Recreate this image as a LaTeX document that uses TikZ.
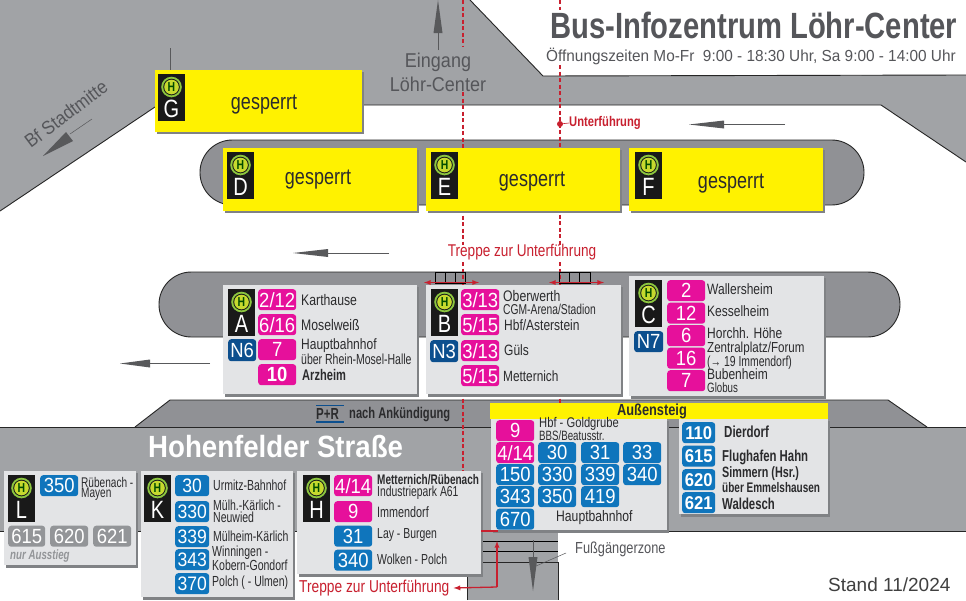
\documentclass[tikz,border=0pt]{standalone}
\usepackage{fontspec}
\setmainfont{Liberation Sans}
\newfontfamily\nar[FakeStretch=0.8]{Liberation Sans}
\newfontfamily\narr[FakeStretch=0.72]{Liberation Sans}
\newfontfamily\narw[FakeStretch=0.9]{Liberation Sans}
\newfontfamily\wid[FakeStretch=0.96]{Liberation Sans}
\usetikzlibrary{calc}
\definecolor{road}{HTML}{A1A3A6}
\definecolor{isl}{HTML}{909195}
\definecolor{panel}{HTML}{E3E4E6}
\definecolor{shadowc}{HTML}{808285}
\definecolor{ylw}{HTML}{FFF200}
\definecolor{pinkc}{HTML}{E6109B}
\definecolor{bluec}{HTML}{0F75BC}
\definecolor{navyc}{HTML}{0C4F8E}
\definecolor{grayc}{HTML}{939598}
\definecolor{redc}{HTML}{C8202F}
\definecolor{txt}{HTML}{2B2B2D}
\definecolor{titlec}{HTML}{55565A}
\definecolor{hring}{HTML}{8CC63F}
\definecolor{hfill}{HTML}{C6D92E}
\definecolor{arrowc}{HTML}{58595B}
\newcounter{nn}
\tikzset{
 x=1pt,y=-1pt,
 edge/.style={draw=black!85,line width=0.9pt},
 dashline/.style={draw=redc,line width=1.1pt,dash pattern=on 4pt off 2.5pt},
 flowline/.style={draw=arrowc,line width=0.5pt},
 flowhead/.style={fill=arrowc},
 chipbox/.style={anchor=north west,inner sep=0pt,rounded corners=3pt,text=white,align=center},
 labelt/.style={anchor=west,inner sep=0pt,text=txt,align=left},
 redt/.style={inner sep=0pt,text=redc},
 stair/.style={draw=black,line width=0.7pt},
 redarrow/.style={draw=redc,line width=1.3pt,-latex},
}
\newcommand{\chip}[7][20.5]{\stepcounter{nn}\node[chipbox,fill=#6,minimum width=#4pt,minimum height=#5pt,name=c\thenn] at (#2,#3) {\fontsize{#1}{#1}\selectfont\narw #7};}
\newcommand{\pk}[3]{\chip{#1}{#2}{38}{21}{pinkc}{#3}}
\newcommand{\bl}[3]{\chip{#1}{#2}{38}{21}{bluec}{#3}}
\newcommand{\bk}[2]{\chip[19.5]{175}{#1}{34}{21}{bluec}{#2}}
\newcommand{\lab}[4]{\stepcounter{nn}\node[labelt,name=t\thenn] at (#1,#2) {\fontsize{#3}{#3}\selectfont\nar #4};}
\newcommand{\labn}[4]{\stepcounter{nn}\node[labelt,name=t\thenn] at (#1,#2) {\fontsize{#3}{#3}\selectfont\narr #4};}
\newcommand{\labb}[4]{\stepcounter{nn}\node[labelt,name=t\thenn] at (#1,#2) {\fontsize{#3}{#3}\selectfont\narr\bfseries #4};}
\newcommand{\panelbox}[4]{\fill[shadowc] (#1+2,#2+2) rectangle (#3+2,#4+2.5);\fill[panel] (#1,#2) rectangle (#3,#4);}
\newcommand{\ybox}[5]{\fill[shadowc] (#1+2,#2+2) rectangle (#3+2,#4+2);\fill[ylw] (#1,#2) rectangle (#3,#4);\stepcounter{nn}\node[inner sep=0pt,text=txt,name=g\thenn] at (#5) {\fontsize{22.5}{22.5}\selectfont\nar gesperrt};}
\newcommand{\stopsign}[3]{\stepcounter{nn}\node[anchor=north west,inner sep=0pt,fill=black!90,minimum width=27pt,minimum height=47pt,name=s\thenn] at (#1,#2) {};
 \fill[hring] (#1+13.5,#2+13) circle (10.3pt);
 \fill[black!90] (#1+13.5,#2+13) circle (8.3pt);
 \fill[hfill] (#1+13.5,#2+13) circle (7.3pt);
 \node[inner sep=0pt,text=black!70!green,name=h\thenn] at (#1+13.5,#2+13) {\fontsize{13}{13}\selectfont\bfseries\nar H};
 \node[inner sep=0pt,text=white,name=l\thenn] at (#1+13.5,#2+35) {\fontsize{25}{25}\selectfont\nar #3};}
\begin{document}
\begin{tikzpicture}
\useasboundingbox (0,0) rectangle (966,600);
\fill[white] (0,0) rectangle (966,600);
% top road
\fill[road] (0,0) -- (470,0) -- (543,76) -- (966,75) -- (966,162) -- (881,105) -- (300,105) -- (155,107) -- (0,211) -- cycle;
\draw[edge] (470,0) -- (543,76) -- (966,75);
\draw[edge] (966,162) -- (881,105) -- (360,105);
\draw[edge] (155,107) -- (0,211);
\draw[flowline] (170,48) -- (170,72);
% islands
\draw[edge,fill=isl,rounded corners=32.4pt] (200,140) rectangle (864,205);
\draw[edge,fill=isl,rounded corners=32.4pt] (159,272) rectangle (900,337);
% lower road
\fill[isl] (135,427) -- (170,400) -- (888,400) -- (927,427) -- cycle;
\draw[edge] (135,427) -- (170,400) -- (888,400) -- (927,427);
\fill[road] (0,427) rectangle (966,531);
\draw[edge] (0,427) -- (966,427);
\draw[edge] (0,531) -- (966,531);
% pedestrian zone
\fill[road] (467,531) rectangle (558,600);
\draw[edge] (467,600) -- (467,562) -- (558,562) -- (558,600);
\draw[stair] (467,541) -- (558,541);
\draw[stair] (467,551) -- (558,551);
% underpass
\draw[dashline] (463,0) -- (463,47);
\draw[dashline] (463,92) -- (463,245);
\draw[dashline] (463,262) -- (463,471);
\draw[dashline] (560,0) -- (560,10);
\draw[dashline] (560,65) -- (560,245);
\draw[dashline] (560,262) -- (560,403);
\coordinate (ud) at (560,124);
\fill[redc] (ud) circle (3pt);
\stepcounter{nn}\node[redt,anchor=west,name=underpass] at (569,123) {\fontsize{14}{14}\selectfont\nar\bfseries Unterführung};
\draw[redc,line width=0.6pt] (ud) -- (underpass.west);
% stairs at island
\draw[stair] (435,272) rectangle (465,283);
\draw[stair] (445,272) -- (445,283) (455,272) -- (455,283);
\draw[stair] (559,272) rectangle (590,283);
\draw[stair] (569,272) -- (569,283) (579,272) -- (579,283);
\draw[draw=redc,line width=1.3pt,latex-latex] (424,282.5) -- (479,282.5);
\draw[draw=redc,line width=1.3pt,latex-latex] (549,282.5) -- (604,282.5);
\node[redt,name=treppeoben] at (522,252) {\fontsize{17}{17}\selectfont\nar Treppe zur Unterführung};
% flow arrows
\draw[flowline] (785,124.5) -- (720,124.5);
\fill[flowhead] (689,124.5) -- (724,120.5) -- (724,128.5) -- cycle;
\draw[flowline] (389,253) -- (325,253);
\fill[flowhead] (293,253) -- (328,249) -- (328,257) -- cycle;
\draw[flowline] (210,363.5) -- (148,363.5);
\fill[flowhead] (120,363.5) -- (150,359.5) -- (150,367.5) -- cycle;
\draw[flowline] (438,50) -- (438,30);
\fill[flowhead] (438,0) -- (433.5,33) -- (442.5,33) -- cycle;
\draw[flowline] (92,119) -- (70,134);
\fill[flowhead] (43,156) -- (66,132) -- (73,141) -- cycle;
\draw[flowline] (533,540) -- (533,560);
\fill[flowhead] (533,591) -- (528.5,557) -- (537.5,557) -- cycle;
\draw[flowline] (536,566) -- (566,553);
% texts on the map
\node[inner sep=0pt,text=titlec,rotate=37,name=bfstadt] at (66,114) {\fontsize{19}{19}\selectfont\narw Bf Stadtmitte};
\node[inner sep=0pt,text=titlec,anchor=center,name=eingang1] at (438,62) {\fontsize{20}{20}\selectfont\narw Eingang};
\node[inner sep=0pt,text=titlec,anchor=center,name=eingang2] at (438,84) {\fontsize{20}{20}\selectfont\narw Löhr-Center};
\node[inner sep=0pt,text=titlec,anchor=west,name=title] at (550,25) {\fontsize{36.5}{36.5}\selectfont\nar\bfseries Bus-Infozentrum Löhr-Center};
\node[inner sep=0pt,text=titlec,anchor=west,name=hours] at (546,56) {\fontsize{16}{16}\selectfont\wid Öffnungszeiten Mo-Fr\ \ 9:00 - 18:30 Uhr, Sa 9:00 - 14:00 Uhr};
\node[inner sep=0pt,text=white,anchor=west,name=street] at (148,447) {\fontsize{30.7}{30.7}\selectfont\narw\bfseries Hohenfelder Straße};
\node[inner sep=0pt,text=titlec,anchor=west,name=fuss] at (575,549) {\fontsize{16}{16}\selectfont\nar Fußgängerzone};
\node[inner sep=0pt,text=black!75,anchor=west,name=stand] at (828,585) {\fontsize{19}{19}\selectfont Stand 11/2024};
\node[inner sep=0pt,text=txt,anchor=west,name=pr] at (316,414) {\fontsize{16}{16}\selectfont\narr\bfseries P+R};
\draw[navyc,line width=1.3pt] (316,405.5) -- (344,405.5) (316,422) -- (344,422);
\node[inner sep=0pt,text=txt,anchor=west,name=ank] at (349,414.5) {\fontsize{15.5}{15.5}\selectfont\narr\bfseries nach Ankündigung};
% closed stops
\ybox{155}{70}{362}{132}{264,105}\stopsign{158}{74}{G}
\ybox{223}{148}{417}{211}{318,180}\stopsign{227}{152}{D}
\ybox{426}{148}{620}{211}{532,182}\stopsign{431}{152}{E}
\ybox{629}{148}{823}{211}{731,184}\stopsign{635}{152}{F}
% stop A
\panelbox{223}{285}{417}{394}
\stopsign{228}{289}{A}
\chip{228}{339}{28}{22}{navyc}{N6}
\pk{258}{289}{2/12}\pk{258}{314}{6/16}\pk{258}{339}{7}\pk{258}{364}{\bfseries 10}
\lab{301}{300}{15.3}{Karthause}
\lab{301}{325}{15.3}{Moselweiß}
\lab{301}{346}{15}{Hauptbahnhof}
\labn{301}{359.5}{14.6}{über Rhein-Mosel-Halle}
\labb{302}{375}{15.4}{Arzheim}
% stop B
\panelbox{426}{285}{621}{394}
\stopsign{431}{289}{B}
\chip{430}{340}{28}{22}{navyc}{N3}
\pk{461}{289}{3/13}\pk{461}{314}{5/15}\pk{461}{340}{3/13}\pk{461}{365}{5/15}
\lab{503}{296}{15.3}{Oberwerth}
\labn{503}{309.5}{14.3}{CGM-Arena/Stadion}
\lab{504}{325}{15}{Hbf/Asterstein}
\lab{504}{350.5}{15}{Güls}
\lab{503}{376}{14.8}{Metternich}
% stop C
\panelbox{629}{276}{824}{396}
\stopsign{635}{280}{C}
\chip{634}{331}{29}{21}{navyc}{N7}
\pk{667}{280}{2}\pk{667}{302.5}{12}\pk{667}{325}{6}\pk{667}{347.5}{16}\pk{667}{370}{7}
\lab{707}{289}{15}{Wallersheim}
\lab{707}{311}{15}{Kesselheim}
\lab{707}{333}{15}{Horchh. Höhe}
\lab{707}{349}{14.5}{Zentralplatz/Forum}
\labn{707}{362.5}{14.5}{(→ 19 Immendorf)}
\lab{707}{374.5}{15}{Bubenheim}
\labn{707}{387.5}{13.5}{Globus}
% outer platform
\panelbox{491}{419}{667}{530}
\panelbox{679}{419}{828}{514}
\fill[ylw] (490,403) rectangle (828,419);
\node[inner sep=0pt,text=txt,name=aussen] at (652,411.5) {\fontsize{16}{16}\selectfont\nar\bfseries Außensteig};
\pk{496}{420}{9}
\lab{539}{424}{14}{Hbf - Goldgrube}
\labn{539}{436}{13.5}{BBS/Beatusstr.}
\pk{496}{442}{4/14}\bl{538}{442}{30}\bl{581}{442}{31}\bl{623}{442}{33}
\bl{496}{464}{150}\bl{538}{464}{330}\bl{581}{464}{339}\bl{623}{464}{340}
\bl{496}{486}{343}\bl{538}{486}{350}\bl{581}{486}{419}
\bl{496}{508.5}{670}
\lab{556}{518}{15.2}{Hauptbahnhof}
\chip[18.5]{682}{422}{33}{21}{bluec}{\bfseries 110}
\chip[18.5]{682}{445.5}{33}{21}{bluec}{\bfseries 615}
\chip[18.5]{682}{469}{33}{21}{bluec}{\bfseries 620}
\chip[18.5]{682}{492}{33}{21}{bluec}{\bfseries 621}
\labb{724}{432}{16}{Dierdorf}
\labb{722}{457}{15.8}{Flughafen Hahn}
\labb{722}{474}{15}{Simmern (Hsr.)}
\labb{722}{488}{13.9}{über Emmelshausen}
\labb{722}{504}{15.8}{Waldesch}
% stop L
\panelbox{4}{471}{136}{565}
\stopsign{8}{475}{L}
\bl{40}{475}{350}
\labn{81}{482}{14}{Rübenach -}
\labn{81}{494}{14}{Mayen}
\chip{8}{525.5}{37}{21}{grayc}{615}
\chip{50}{525.5}{38}{21}{grayc}{620}
\chip{93}{525.5}{38}{21}{grayc}{621}
\stepcounter{nn}\node[labelt,text=grayc,name=ausstieg] at (10,556) {\fontsize{13.5}{13.5}\selectfont\narr\bfseries\itshape nur Ausstieg};
% stop K
\panelbox{141}{471}{293}{597}
\stopsign{144}{475}{K}
\bk{475}{30}\bk{501}{330}\bk{526}{339}\bk{549}{343}\bk{573}{370}
\labn{213}{485}{14.6}{Urmitz-Bahnhof}
\labn{213}{505}{14.6}{Mülh.-Kärlich -}
\labn{213}{517}{14.6}{Neuwied}
\labn{213}{536}{14.6}{Mülheim-Kärlich}
\labn{212}{553}{14.6}{Winningen -}
\labn{212}{565}{14.6}{Kobern-Gondorf}
\labn{212}{583}{14.6}{Polch ( - Ulmen)}
% stop H
\panelbox{297}{471}{481}{574}
\stopsign{303}{475}{H}
\pk{334}{475}{4/14}\pk{334}{501}{9}\bl{334}{525.5}{31}\bl{334}{549.5}{340}
\labb{377}{480}{13.9}{Metternich/Rübenach}
\labn{377}{493}{14.4}{Industriepark A61}
\labn{377}{512}{15}{Immendorf}
\labn{377}{535}{14.5}{Lay - Burgen}
\labn{377}{559}{14.5}{Wolken - Polch}
% bottom stair label
\node[redt,anchor=west,name=treppeunten] at (299,588) {\fontsize{17.2}{17.2}\selectfont\nar Treppe zur Unterführung};
\coordinate (bend) at (497,587);
\coordinate (stairtop) at (497,541);
\draw[redarrow] (bend) -- ([xshift=4pt]treppeunten.east);
\draw[redarrow] (bend) -- (stairtop);
\draw[redc,line width=1.2pt] (481,531) -- (498,531);
\end{tikzpicture}
\end{document}
